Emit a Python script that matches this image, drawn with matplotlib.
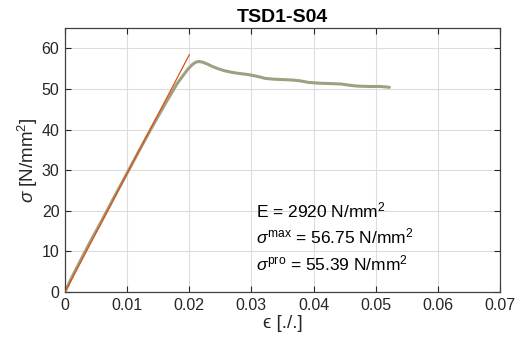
import numpy as np
import matplotlib
matplotlib.use("Agg")
import matplotlib.pyplot as plt

plt.rcParams['font.family'] = ['Liberation Sans', 'DejaVu Sans']
plt.rcParams['mathtext.fontset'] = 'custom'
plt.rcParams['mathtext.rm'] = 'Liberation Sans'
plt.rcParams['mathtext.it'] = 'Liberation Sans:italic'

# Measured stress-strain curve
strain = [0.0, 0.001, 0.002, 0.004, 0.006, 0.008, 0.010, 0.012, 0.014, 0.016,
          0.018, 0.0190, 0.0198, 0.0205, 0.0210, 0.0215, 0.0220, 0.0228,
          0.0236, 0.0244, 0.0256, 0.0268, 0.0280, 0.0292, 0.0303, 0.0312,
          0.0322, 0.0335, 0.0350, 0.0365, 0.0378, 0.0392, 0.0410, 0.0430,
          0.0445, 0.0458, 0.0470, 0.0490, 0.0508, 0.0522]
stress = [0.0, 3.3, 6.3, 12.2, 17.8, 23.6, 29.3, 35.0, 40.6, 46.0,
          51.2, 53.3, 54.9, 56.0, 56.55, 56.75, 56.65, 56.2,
          55.6, 55.1, 54.5, 54.1, 53.8, 53.6, 53.3, 53.0,
          52.6, 52.4, 52.3, 52.2, 52.0, 51.6, 51.4, 51.3,
          51.2, 50.9, 50.7, 50.6, 50.6, 50.4]

# Linear elastic fit
E_mod = 2920
fit_strain = [0.0, 0.02]
sigma_max = 56.75
sigma_pro = 55.39

xticks = [0, 0.01, 0.02, 0.03, 0.04, 0.05, 0.06, 0.07]
xticklabels = ['0', '0.01', '0.02', '0.03', '0.04', '0.05', '0.06', '0.07']
yticks = [0, 10, 20, 30, 40, 50, 60]

fig = plt.figure(figsize=(5.21, 3.51), dpi=100)
ax = fig.add_axes([65/521, 1 - 292/351, 435/521, 264/351])

ax.plot(strain, stress, color='#A0A080', lw=2.2, solid_capstyle='round',
        solid_joinstyle='round', zorder=2)
ax.plot(fit_strain, [E_mod * s for s in fit_strain], color='#D95319', lw=0.9, zorder=3)

ax.set_xlim(0, 0.07)
ax.set_ylim(0, 65)
ax.set_xticks(xticks)
ax.set_xticklabels(xticklabels)
ax.set_yticks(yticks)
ax.grid(True, color='#DCDCDC', lw=0.8)
ax.set_axisbelow(True)
ax.tick_params(direction='in', length=4, labelsize=11.5, colors='#262626',
               top=True, right=True, pad=4)
for sp in ax.spines.values():
    sp.set_color('#404040')
    sp.set_linewidth(0.9)

ax.set_xlabel('\u03f5 [./.]', fontsize=13.5, color='#262626', labelpad=2)
ax.set_ylabel(r'$\sigma$ [N/mm$^2$]', fontsize=13.5, color='#262626', labelpad=1)
ax.set_title('TSD1-S04', fontsize=14, fontweight='bold', color='#000000', pad=4)

tx = 0.0308
fs = 12.5
ax.text(tx, 20.0, 'E = %d N/mm$^2$' % E_mod, fontsize=fs, va='center')
ax.text(tx, 13.6, r'$\sigma^{\mathrm{max}}$ = %.2f N/mm$^2$' % sigma_max, fontsize=fs, va='center')
ax.text(tx, 7.1, r'$\sigma^{\mathrm{pro}}$ = %.2f N/mm$^2$' % sigma_pro, fontsize=fs, va='center')

fig.savefig('out.png', dpi=100)
